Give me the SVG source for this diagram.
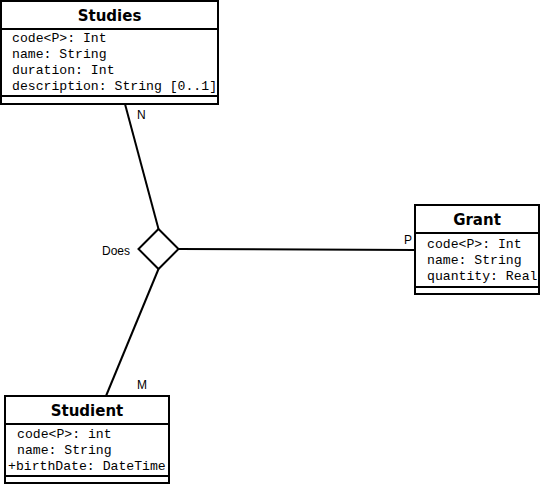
<svg xmlns="http://www.w3.org/2000/svg" width="541" height="485" viewBox="0 0 541 485">
<style>
.box{fill:#fff;stroke:#000;stroke-width:2}
.sep{stroke:#000;stroke-width:2}
.title{font-family:"DejaVu Sans","Liberation Sans",sans-serif;font-weight:bold;font-size:15px;text-anchor:middle}
.attr{font-family:"Liberation Mono","Courier New",monospace;font-size:13.15px}
.lbl{font-family:"Liberation Sans",Arial,sans-serif;font-size:12px}
.conn{stroke:#000;stroke-width:2;fill:none}
</style>
<rect width="541" height="485" fill="#fff"/>
<g id="connectors">
<line class="conn" x1="125" y1="104" x2="158.5" y2="229"/>
<line class="conn" x1="158.5" y1="269" x2="106" y2="396"/>
<line class="conn" x1="178.5" y1="249" x2="415" y2="250"/>
<text class="lbl" x="137" y="119">N</text>
<text class="lbl" x="137" y="389">M</text>
<text class="lbl" x="404" y="244">P</text>
</g>
<g id="Does">
<polygon points="158.5,229 178.5,249 158.5,269 138.5,249" fill="#fff" stroke="#000" stroke-width="2"/>
<text class="lbl" x="102" y="255">Does</text>
</g>
<g id="Studies">
<rect class="box" x="1" y="1" width="217" height="103"/>
<line class="sep" x1="1" y1="29" x2="218" y2="29"/>
<line class="sep" x1="1" y1="96" x2="218" y2="96"/>
<text class="title" x="109.5" y="21">Studies</text>
<text class="attr" x="12" y="42">code&lt;P&gt;: Int</text>
<text class="attr" x="12" y="58">name: String</text>
<text class="attr" x="12" y="74">duration: Int</text>
<text class="attr" x="12" y="90">description: String [0..1]</text>
</g>
<g id="Grant">
<rect class="box" x="415" y="205" width="124" height="89"/>
<line class="sep" x1="415" y1="233" x2="539" y2="233"/>
<line class="sep" x1="415" y1="287" x2="539" y2="287"/>
<text class="title" x="477" y="225">Grant</text>
<text class="attr" x="427" y="248">code&lt;P&gt;: Int</text>
<text class="attr" x="427" y="264">name: String</text>
<text class="attr" x="427" y="280">quantity: Real</text>
</g>
<g id="Studient">
<rect class="box" x="5" y="396" width="164" height="87"/>
<line class="sep" x1="5" y1="424" x2="169" y2="424"/>
<line class="sep" x1="5" y1="476" x2="169" y2="476"/>
<text class="title" x="87" y="416">Studient</text>
<text class="attr" x="17" y="438">code&lt;P&gt;: int</text>
<text class="attr" x="17" y="454">name: String</text>
<text class="attr" x="8" y="470">+birthDate: DateTime</text>
</g>
</svg>
